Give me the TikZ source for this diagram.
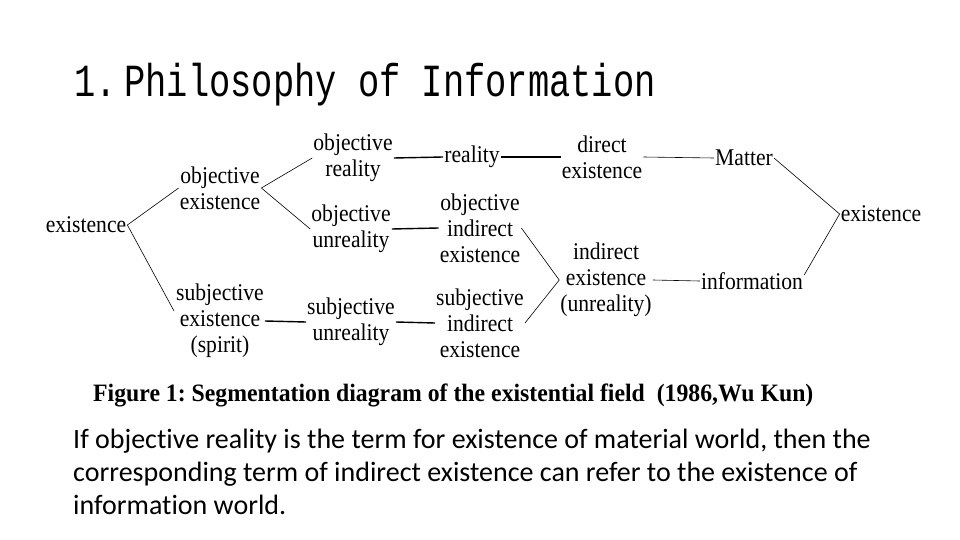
\documentclass[tikz,border=0pt]{standalone}
\usepackage{fontspec}
\setmainfont{Liberation Serif}
\newfontfamily\diafont[FakeStretch=0.9]{Liberation Serif}
\newfontfamily\titlefont[FakeStretch=0.77]{Liberation Mono}
\newfontfamily\capfont[FakeStretch=0.95]{Liberation Serif}
\newfontfamily\bodyfont[Ligatures=NoCommon]{Carlito}
\usetikzlibrary{calc}
\frenchspacing

\begin{document}
\begin{tikzpicture}[x=1pt, y=-1pt]
    \tikzstyle{term} = [align=center, inner sep=1pt,
    font=\diafont\fontsize{24}{26}\selectfont]
    \tikzstyle{link} = [draw, line width=0.6pt]
    \tikzstyle{bar} = [draw, line width=1.4pt]
    \useasboundingbox (0,0) rectangle (960,540);
    \node [anchor=base west, inner sep=0pt, font=\titlefont\fontsize{46}{50}\selectfont]
        (title) at (74,97) {1.\,Philosophy of Information};
    % left fork
    \node [term] (exist) at (86,225) {existence};
    \node [term] (objexist) at (220,188) {objective\\existence};
    \node [term] (subjexist) at (220,321) {subjective\\existence\\(spirit)};
    \node [term] (objreal) at (353,158) {objective\\reality};
    \node [term] (objunreal) at (351,229) {objective\\unreality};
    \node [term] (subjunreal) at (351,322) {subjective\\unreality};
    \node [term] (reality) at (472,157) {reality};
    \node [term] (objindirect) at (480,228) {objective\\indirect\\existence};
    \node [term] (subjindirect) at (480,323) {subjective\\indirect\\existence};
    % right fork
    \node [term] (direct) at (602,157) {direct\\existence};
    \node [term] (indirect) at (606,280) {indirect\\existence\\(unreality)};
    \node [term] (matter) at (744,158) {Matter};
    \node [term] (information) at (752,281) {information};
    \node [term] (existence) at (881,214) {existence};
    \draw [link] (objexist.west) -- (exist.east) -- ($(subjexist.west)+(-1,-10)$);
    \draw [link] (objreal.west) -- (objexist.east) -- (objunreal.west);
    \draw [bar] (subjexist.east) -- (subjunreal.west);
    \draw [bar] (objreal.east) -- (reality.west);
    \draw [bar] (reality.east) -- (direct.west);
    \draw [bar] (objunreal.east) -- (objindirect.west);
    \draw [bar] (subjunreal.east) -- (subjindirect.west);
    \draw [link] (objindirect.east) -- (indirect.west) -- (subjindirect.east);
    \draw [link] (direct.east) -- (matter.west);
    \draw [link] (indirect.east) -- (information.west);
    \draw [link] (matter.east) -- (existence.west) -- ($(information.east)+(0,-6)$);
    % caption and remark
    \node [anchor=base west, inner sep=0pt, font=\capfont\bfseries\fontsize{25}{28}\selectfont]
        (caption) at (93,401) {Figure 1: Segmentation diagram of the existential field~~(1986,Wu Kun)};
    \node [anchor=north west, inner sep=0pt, align=left,
        font=\bodyfont\fontsize{28}{33}\selectfont]
        (remark) at (73,429) {If objective reality is the term for existence of material world, then the\\
        corresponding term of indirect existence can refer to the existence of\\
        information world.};
\end{tikzpicture}
\end{document}
